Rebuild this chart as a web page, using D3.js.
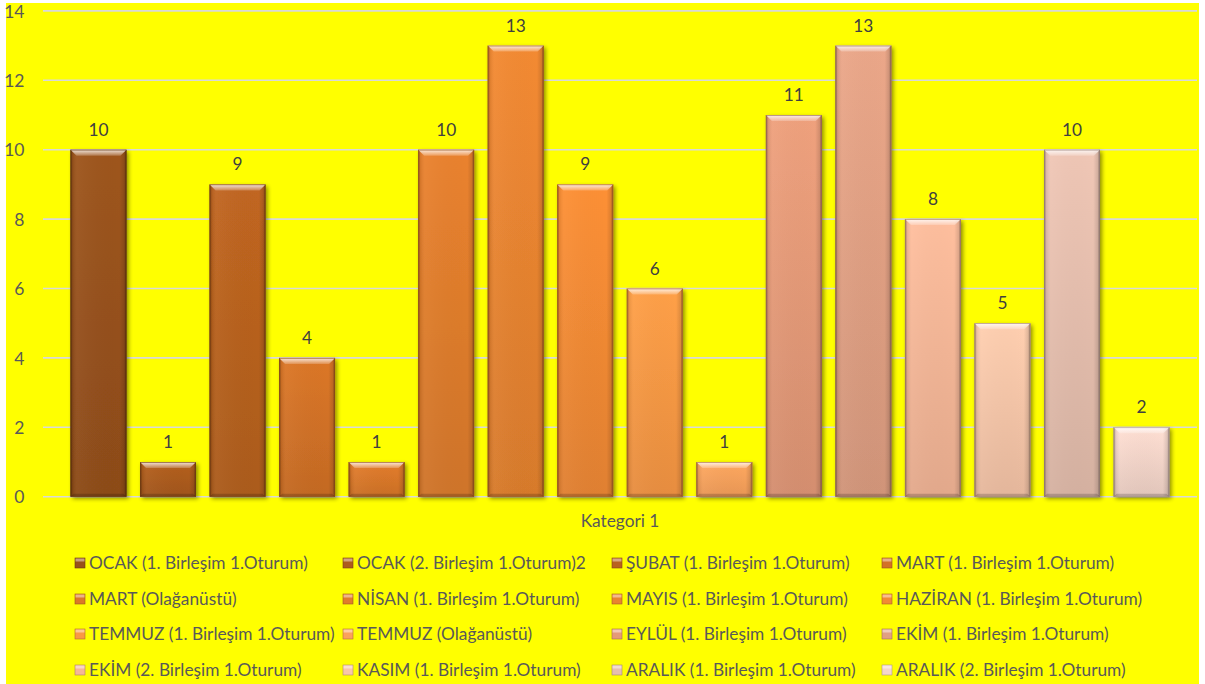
<!DOCTYPE html>
<html><head><meta charset="utf-8">
<script src="https://cdn.jsdelivr.net/npm/d3@7"></script>
<style>
html,body{margin:0;padding:0;background:#fff;}
svg{display:block;}
text{font-family:Lato,"Open Sans",sans-serif;}
</style></head>
<body>
<svg id="chart" width="1205" height="684"></svg>
<script>
const categories = ["Kategori 1"];
const seriesNames = [
  "OCAK (1. Birleşim 1.Oturum)", "OCAK (2. Birleşim 1.Oturum)2", "ŞUBAT (1. Birleşim 1.Oturum)", "MART (1. Birleşim 1.Oturum)",
  "MART (Olağanüstü)", "NİSAN (1. Birleşim 1.Oturum)", "MAYIS (1. Birleşim 1.Oturum)", "HAZİRAN (1. Birleşim 1.Oturum)",
  "TEMMUZ (1. Birleşim 1.Oturum)", "TEMMUZ (Olağanüstü)", "EYLÜL (1. Birleşim 1.Oturum)", "EKİM (1. Birleşim 1.Oturum)",
  "EKİM (2. Birleşim 1.Oturum)", "KASIM (1. Birleşim 1.Oturum)", "ARALIK (1. Birleşim 1.Oturum)", "ARALIK (2. Birleşim 1.Oturum)"
];
const seriesValues = [10, 1, 9, 4, 1, 10, 13, 9, 6, 1, 11, 13, 8, 5, 10, 2];
const yTicks = [0, 2, 4, 6, 8, 10, 12, 14];
const palette = ["#97511b", "#ad5c1e", "#b9621f", "#d37226", "#da7829", "#e07d2c", "#e98430", "#f28a34",
                 "#fa9944", "#fba25c", "#e59a78", "#e1a083", "#f5b797", "#f8c6a9", "#e6bfae", "#f4d6ca"];

const svg = d3.select("#chart");
const W = 1205, H = 684;
svg.append("rect").attr("x", 6).attr("y", 3).attr("width", 1193).attr("height", H - 3).attr("fill", "#ffff00");

const plot = {left: 43, right: 1197, top: 10.9, bottom: 496.7};
const y = d3.scaleLinear().domain([0, 14]).range([plot.bottom, plot.top]);
const x0 = d3.scaleBand().domain(categories).range([plot.left, plot.right]);
const catPad = 20.7;
const x1 = d3.scaleBand().domain(seriesNames)
  .range([catPad, x0.bandwidth() - catPad]).paddingInner(0.195).paddingOuter(0.0975);

const defs = svg.append("defs");
const shadow = defs.append("filter").attr("id", "shadow").attr("x", "-20%").attr("y", "-20%").attr("width", "140%").attr("height", "140%");
shadow.append("feGaussianBlur").attr("in", "SourceAlpha").attr("stdDeviation", 2.2).attr("result", "b");
shadow.append("feOffset").attr("dx", 1.5).attr("dy", 1.5).attr("result", "o");
shadow.append("feComponentTransfer").append("feFuncA").attr("type", "linear").attr("slope", 0.45);
const fm = shadow.append("feMerge");
fm.append("feMergeNode");
fm.append("feMergeNode").attr("in", "SourceGraphic");

palette.forEach((c, i) => {
  const g = defs.append("linearGradient").attr("id", "body" + i).attr("x1", 0).attr("y1", 0).attr("x2", 0).attr("y2", 1);
  g.append("stop").attr("offset", "0%").attr("stop-color", d3.color(c).brighter(0.12));
  g.append("stop").attr("offset", "100%").attr("stop-color", d3.color(c).darker(0.22));
});
const side = defs.append("linearGradient").attr("id", "side").attr("x1", 0).attr("y1", 0).attr("x2", 1).attr("y2", 0);
side.append("stop").attr("offset", "0%").attr("stop-color", "#000").attr("stop-opacity", 0.45);
side.append("stop").attr("offset", "4%").attr("stop-color", "#000").attr("stop-opacity", 0.08);
side.append("stop").attr("offset", "12%").attr("stop-color", "#fff").attr("stop-opacity", 0.04);
side.append("stop").attr("offset", "88%").attr("stop-color", "#000").attr("stop-opacity", 0.0);
side.append("stop").attr("offset", "96%").attr("stop-color", "#000").attr("stop-opacity", 0.12);
side.append("stop").attr("offset", "100%").attr("stop-color", "#000").attr("stop-opacity", 0.5);
const topg = defs.append("linearGradient").attr("id", "topbev").attr("x1", 0).attr("y1", 0).attr("x2", 0).attr("y2", 1);
topg.append("stop").attr("offset", "0%").attr("stop-color", "#fff").attr("stop-opacity", 0.85);
topg.append("stop").attr("offset", "100%").attr("stop-color", "#fff").attr("stop-opacity", 0.2);

// gridlines
svg.append("g").selectAll("line").data(yTicks).join("line")
  .attr("x1", plot.left).attr("x2", plot.right)
  .attr("y1", d => y(d)).attr("y2", d => y(d))
  .attr("stroke", "#d9d9d9").attr("stroke-width", 1.6);

// y axis labels
const yAxis = d3.axisLeft(y).tickValues(yTicks).tickSize(0).tickPadding(0);
const ya = svg.append("g").attr("transform", "translate(24.5,0)").call(yAxis);
ya.select(".domain").remove();
ya.selectAll("text").attr("fill", "#595959").attr("font-size", 17.5).attr("font-family", "Lato, sans-serif").attr("dy", "0.35em");

// bars
const bars = svg.append("g").selectAll("g.cat").data(categories).join("g")
  .attr("transform", d => `translate(${x0(d)},0)`);
const bev = 6;
const barG = bars.selectAll("g.bar").data(seriesNames.map((n, i) => ({n, v: seriesValues[i], i}))).join("g").attr("class", "bar");
barG.each(function(d) {
  const g = d3.select(this);
  const bx = x1(d.n), bw = x1.bandwidth(), by = y(d.v), bh = y(0) - y(d.v);
  g.append("rect").attr("x", bx).attr("y", by).attr("width", bw).attr("height", bh)
    .attr("fill", `url(#body${d.i})`).attr("filter", "url(#shadow)");
  g.append("rect").attr("x", bx).attr("y", by).attr("width", bw).attr("height", bh).attr("fill", "url(#side)");
  g.append("path").attr("d", `M${bx},${by}L${bx + bw},${by}L${bx + bw - bev},${by + bev}L${bx + bev},${by + bev}Z`)
    .attr("fill", "url(#topbev)");
  g.append("path").attr("d", `M${bx},${by + bh}L${bx + bw},${by + bh}L${bx + bw - 3},${by + bh - 3}L${bx + 3},${by + bh - 3}Z`)
    .attr("fill", "#000").attr("opacity", 0.18);
  g.append("rect").attr("x", bx + 0.4).attr("y", by + 0.4).attr("width", bw - 0.8).attr("height", bh - 0.8)
    .attr("fill", "none").attr("stroke", d3.color(palette[d.i]).darker(1.1)).attr("stroke-width", 0.8).attr("opacity", 0.8);
  g.append("text").attr("x", bx + bw / 2).attr("y", by - 14)
    .attr("text-anchor", "middle").attr("font-size", 17.3).attr("fill", "#404040").text(d.v);
});

// category label
svg.append("text").attr("x", x0("Kategori 1") + x0.bandwidth() / 2).attr("y", 527)
  .attr("text-anchor", "middle").attr("font-size", 17.3).attr("fill", "#595959").text(categories[0]);

// legend
const legX = [75, 343, 612, 882], legY = [563, 599, 634, 670];
const leg = svg.append("g").selectAll("g").data(seriesNames).join("g")
  .attr("transform", (d, i) => `translate(${legX[i % 4]},${legY[Math.floor(i / 4)]})`);
leg.append("rect").attr("x", 0).attr("y", -5).attr("width", 10).attr("height", 10)
  .attr("fill", (d, i) => palette[i]).attr("stroke", (d, i) => d3.color(palette[i]).darker(1)).attr("stroke-width", 0.6);
leg.append("rect").attr("x", 0.5).attr("y", -4.5).attr("width", 9).attr("height", 3).attr("fill", "#fff").attr("opacity", 0.45);
leg.append("text").attr("x", 14).attr("y", 0).attr("dy", "0.36em").attr("font-size", 17.3).attr("fill", "#595959").text(d => d);
</script>
</body></html>
